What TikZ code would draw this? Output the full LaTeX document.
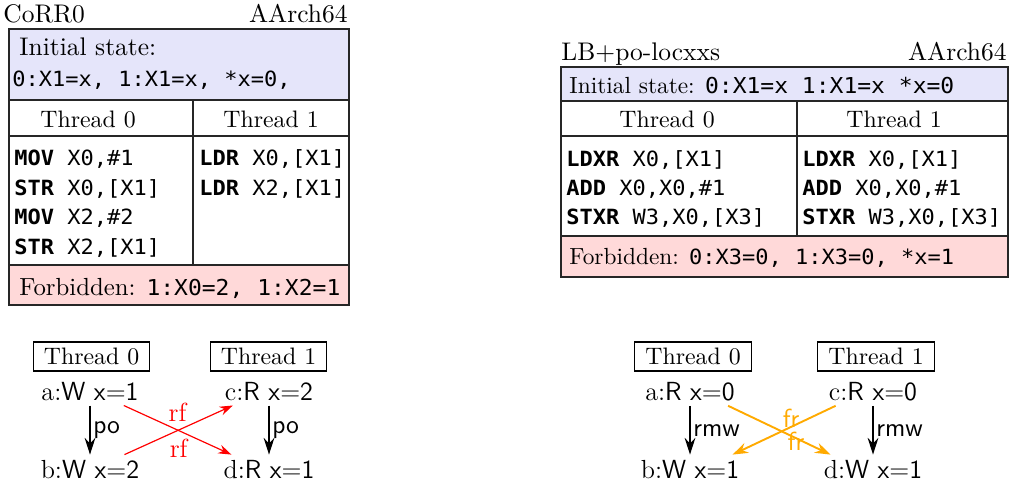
\documentclass[tikz,border=0pt]{standalone}
\usepackage{fontspec}
\usetikzlibrary{arrows.meta}
\newfontfamily\codefont{DejaVu Sans Mono}[FakeStretch=1.05]
\definecolor{initc}{RGB}{229,229,250}
\definecolor{forbc}{RGB}{255,217,217}
\definecolor{frc}{RGB}{255,170,0}
\newcommand\cd[1]{{\codefont\fontsize{8.8}{10}\selectfont #1}}
\newcommand\cdb[1]{{\codefont\fontsize{9.2}{10}\selectfont #1}}
\newcommand\kw[1]{\textbf{#1}}
\tikzset{
  tl/.style={line width=0.5pt, draw=black!85},
  ttl/.style={inner sep=0pt, font=\fontsize{10.7}{12}\selectfont},
  txt/.style={inner sep=0pt, font=\fontsize{10}{12}\selectfont},
  stxt/.style={inner sep=0pt, font=\fontsize{9.8}{11}\selectfont},
  codeline/.style={inner sep=0pt, anchor=base west, font=\codefont\fontsize{8.8}{10}\selectfont},
  tbox/.style={draw, line width=0.5pt, inner sep=0pt, minimum width=49pt, minimum height=12.2pt, font=\fontsize{10}{12}\selectfont},
  ev/.style={inner sep=2pt, anchor=base, font=\fontsize{11}{13}\selectfont},
  po/.style={line width=0.8pt, -{Stealth[length=7pt,width=4.5pt]}},
  rfe/.style={red, line width=0.5pt, -{Stealth[length=5.5pt,width=3.8pt]}},
  fre/.style={frc, line width=0.8pt, -{Stealth[length=6.5pt,width=4.5pt]}},
  elab/.style={inner sep=1pt, font=\fontsize{11}{13}\selectfont\sffamily},
}
\begin{document}
\begin{tikzpicture}[x=0.42pt,y=-0.42pt]
\useasboundingbox (0,0) rectangle (1011,484);
% ---------- left table ----------
\fill[initc] (9,29) rectangle (349,100);
\fill[forbc] (9,265) rectangle (349,305);
\draw[tl] (9,29) rectangle (349,305);
\draw[tl] (9,100) -- (349,100);
\draw[tl] (9,136) -- (349,136);
\draw[tl] (9,265) -- (349,265);
\draw[tl] (193,100) -- (193,265);
\node[ttl, anchor=base west] (Lname) at (3,22) {CoRR0};
\node[ttl, anchor=base east] (Larch) at (348,22) {AArch64};
\node[ttl, anchor=base west] (Linit) at (19,55) {Initial state:};
\node[codeline] (Linitv) at (12,86) {0:X1=x, 1:X1=x, *x=0,};
\node[txt, anchor=base] (Lh0) at (88,127) {Thread 0};
\node[txt, anchor=base] (Lh1) at (271,127) {Thread 1};
\node[codeline] (L01) at (14,165) {\kw{MOV} X0,\#1};
\node[codeline] (L02) at (14,195) {\kw{STR} X0,[X1]};
\node[codeline] (L03) at (14,224) {\kw{MOV} X2,\#2};
\node[codeline] (L04) at (14,254) {\kw{STR} X2,[X1]};
\node[codeline] (L11) at (199,165) {\kw{LDR} X0,[X1]};
\node[codeline] (L12) at (199,195) {\kw{LDR} X2,[X1]};
\node[inner sep=0pt, anchor=base west, font=\fontsize{10.4}{12}\selectfont] (Lforb) at (19,295) {Forbidden: {\codefont\fontsize{9.2}{10}\selectfont 1:X0=2, 1:X2=1}};
% ---------- right table ----------
\fill[initc] (561,67) rectangle (1008,101);
\fill[forbc] (561,236) rectangle (1008,277);
\draw[tl] (561,67) rectangle (1008,277);
\draw[tl] (561,101) -- (1008,101);
\draw[tl] (561,136) -- (1008,136);
\draw[tl] (561,236) -- (1008,236);
\draw[tl] (797,101) -- (797,236);
\node[ttl, anchor=base west] (Rname) at (561,60) {LB+po-locxxs};
\node[ttl, anchor=base east] (Rarch) at (1007,60) {AArch64};
\node[stxt, anchor=base west] (Rinit) at (569,93) {Initial state: \cdb{0:X1=x 1:X1=x *x=0}};
\node[txt, anchor=base] (Rh0) at (667,127) {Thread 0};
\node[txt, anchor=base] (Rh1) at (894,127) {Thread 1};
\node[codeline] (R01) at (566,166) {\kw{LDXR} X0,[X1]};
\node[codeline] (R02) at (566,195) {\kw{ADD} X0,X0,\#1};
\node[codeline] (R03) at (566,224) {\kw{STXR} W3,X0,[X3]};
\node[codeline] (R11) at (802,166) {\kw{LDXR} X0,[X1]};
\node[codeline] (R12) at (802,195) {\kw{ADD} X0,X0,\#1};
\node[codeline] (R13) at (802,224) {\kw{STXR} W3,X0,[X3]};
\node[stxt, anchor=base west] (Rforb) at (569,264) {Forbidden: \cd{0:X3=0, 1:X3=0, *x=1}};
% ---------- left graph ----------
\node[tbox] (gl0) at (91.5,356.5) {Thread 0};
\node[tbox] (gl1) at (268.5,356.5) {Thread 1};
\node[ev] (la) at (90,400) {a:\textsf{W x}=\textsf{1}};
\node[ev] (lb) at (90,478) {b:\textsf{W x}=\textsf{2}};
\node[ev] (lc) at (269,400) {c:\textsf{R x}=\textsf{2}};
\node[ev] (ld) at (269,478) {d:\textsf{R x}=\textsf{1}};
\draw[po] (la) -- node[elab, right] {po} (lb);
\draw[po] (lc) -- node[elab, right] {po} (ld);
\draw[rfe] ([xshift=-8.4pt]la.south east) -- node[inner sep=1pt, above, yshift=2.5pt, font=\fontsize{11}{13}\selectfont, red] {rf} ([xshift=5.5pt]ld.north west);
\draw[rfe] ([xshift=-8.4pt]lb.north east) -- node[inner sep=1pt, below, yshift=-2.5pt, font=\fontsize{11}{13}\selectfont, red] {rf} ([xshift=5.5pt]lc.south west);
% ---------- right graph ----------
\node[tbox] (gr0) at (693,356.5) {Thread 0};
\node[tbox] (gr1) at (876,356.5) {Thread 1};
\node[ev] (ra) at (690,400) {a:\textsf{R x}=\textsf{0}};
\node[ev] (rb) at (690,478) {b:\textsf{W x}=\textsf{1}};
\node[ev] (rc) at (873,400) {c:\textsf{R x}=\textsf{0}};
\node[ev] (rd) at (873,478) {d:\textsf{W x}=\textsf{1}};
\draw[po] (ra) -- node[elab, right] {rmw} (rb);
\draw[po] (rc) -- node[elab, right] {rmw} (rd);
\draw[fre] ([xshift=-5pt]ra.south east) -- node[elab, frc, xshift=5pt, yshift=5pt] {fr} ([xshift=5pt]rd.north west);
\draw[fre] ([xshift=5pt]rc.south west) -- node[elab, frc, xshift=5pt, yshift=-4.5pt] {fr} ([xshift=-5pt]rb.north east);
\end{tikzpicture}
\end{document}
